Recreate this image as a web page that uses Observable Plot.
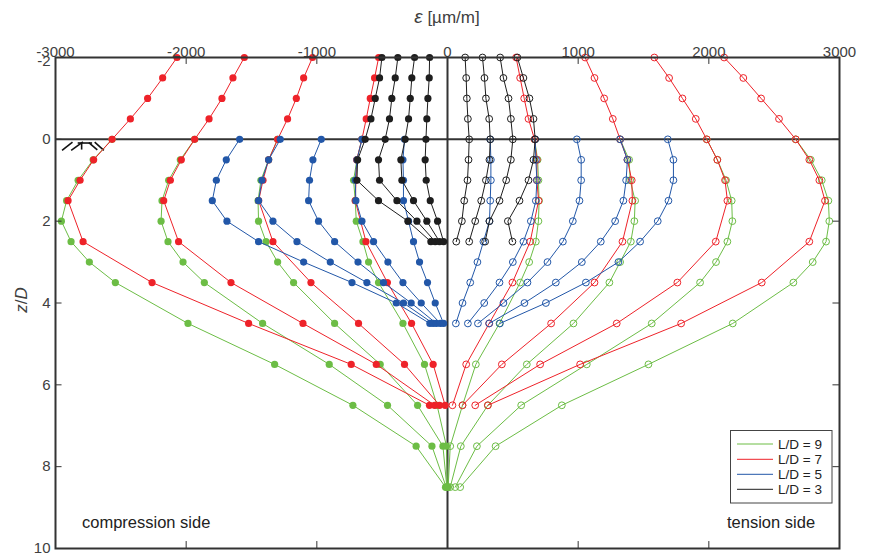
<!DOCTYPE html>
<html><head><meta charset="utf-8">
<script src="https://cdn.jsdelivr.net/npm/d3@7"></script>
<script src="https://cdn.jsdelivr.net/npm/@observablehq/plot@0.6"></script>
<style>
body{margin:0;background:#fff;}
#chart{position:relative;width:871px;height:556px;}
</style></head><body><div id="chart"></div>
<script>
// ---------- data ----------
const xTicks = [-3000, -2000, -1000, 0, 1000, 2000, 3000];
const yTicks = [-2, 0, 2, 4, 6, 8, 10];
const groups = ["L/D = 9", "L/D = 7", "L/D = 5", "L/D = 3"];
const groupColors = ["#6cbd45", "#ee2229", "#2257a8", "#1e1e1e"];

// depth levels z/D of the measuring points
const zLD9 = [0, 0.5, 1, 1.5, 2, 2.5, 3, 3.5, 4.5, 5.5, 6.5, 7.5, 8.5];
const zLD7 = [-2, -1.5, -1, -0.5, 0, 0.5, 1, 1.5, 2.5, 3.5, 4.5, 5.5, 6.5];
const zLD5 = [0, 0.5, 1, 1.5, 2, 2.5, 3, 3.5, 4, 4.5];
const zLD3 = [-2, -1.5, -1, -0.5, 0, 0.5, 1, 1.5, 2, 2.5];

// strains (µm/m), compression side
const ld9Compression = [
  [-2567, -2712, -2827, -2915, -2955, -2881, -2741, -2542, -1986, -1323, -724, -240, -15],
  [-1935, -2045, -2134, -2185, -2192, -2139, -2024, -1861, -1415, -905, -459, -119, -10],
  [-1300, -1369, -1428, -1450, -1446, -1389, -1300, -1178, -864, -515, -229, -35, -5],
  [-655, -693, -719, -706, -698, -647, -604, -528, -341, -176, -80, -8, 0]
];
const ld7Compression = [
  [-2070, -2180, -2295, -2427, -2567, -2708, -2812, -2904, -2789, -2261, -1522, -737, -138],
  [-1555, -1642, -1726, -1825, -1935, -2037, -2121, -2172, -2058, -1657, -1106, -545, -99],
  [-1033, -1101, -1157, -1224, -1300, -1369, -1412, -1445, -1336, -1045, -681, -329, -61],
  [-527, -558, -591, -622, -655, -695, -700, -706, -624, -460, -275, -110, -18]
];
const ld5Compression = [
  [-1591, -1693, -1769, -1800, -1688, -1446, -1101, -731, -392, -135],
  [-1280, -1369, -1420, -1446, -1336, -1152, -897, -617, -337, -110],
  [-966, -1030, -1056, -1063, -987, -864, -685, -490, -278, -85],
  [-655, -693, -706, -701, -655, -566, -456, -341, -201, -55],
  [-329, -341, -337, -337, -298, -260, -214, -153, -94, -30]
];
const ld3Compression = [
  [-502, -520, -553, -586, -630, -688, -693, -528, -303, -127],
  [-380, -400, -426, -444, -477, -528, -520, -387, -234, -94],
  [-252, -273, -285, -298, -324, -357, -349, -260, -158, -61],
  [-137, -140, -150, -158, -165, -171, -163, -132, -76, -30]
];

// strains (µm/m), tension side
const ld9Tension = [
  [666, 690, 696, 701, 696, 676, 625, 556, 398, 217, 115, 21, 5],
  [1321, 1390, 1398, 1436, 1430, 1403, 1321, 1239, 964, 607, 309, 102, 21],
  [1984, 2065, 2132, 2175, 2180, 2142, 2055, 1933, 1563, 1066, 564, 225, 59],
  [2665, 2780, 2864, 2915, 2922, 2897, 2795, 2647, 2183, 1538, 875, 368, 97]
];
const ld7Tension = [
  [2117, 2264, 2400, 2537, 2665, 2769, 2846, 2889, 2769, 2405, 1788, 1015, 309],
  [1583, 1696, 1798, 1900, 1984, 2065, 2124, 2142, 2053, 1759, 1295, 709, 212],
  [1053, 1125, 1199, 1265, 1321, 1377, 1410, 1415, 1339, 1125, 793, 416, 115],
  [525, 556, 587, 620, 666, 684, 684, 697, 633, 497, 319, 143, 38]
];
const ld5Tension = [
  [327, 332, 332, 327, 321, 275, 229, 174, 115, 64],
  [671, 676, 684, 676, 638, 581, 500, 398, 281, 156],
  [990, 1023, 1023, 1010, 959, 883, 765, 612, 428, 233],
  [1321, 1377, 1367, 1346, 1283, 1173, 1028, 829, 589, 319],
  [1686, 1729, 1729, 1691, 1609, 1474, 1308, 1059, 753, 401]
];
const ld3Tension = [
  [135, 143, 148, 156, 166, 161, 153, 128, 110, 67],
  [268, 283, 294, 319, 327, 321, 294, 258, 212, 166],
  [403, 428, 467, 485, 500, 485, 449, 398, 321, 288],
  [535, 581, 627, 658, 671, 658, 620, 551, 462, 497]
];

// ground surface hatch symbol (strain, z/D)
const groundHatch = [
  [-2950, 0.27, -2870, 0.07],
  [-2880, 0.27, -2790, 0.06],
  [-2830, 0.09, -2720, 0.09],
  [-2800, 0.09, -2800, 0.25],
  [-2745, 0.08, -2680, 0.26],
  [-2700, 0.07, -2630, 0.27]
];

// ---------- build table ----------
const zByGroup = [zLD9, zLD7, zLD5, zLD3];
const compByGroup = [ld9Compression, ld7Compression, ld5Compression, ld3Compression];
const tensByGroup = [ld9Tension, ld7Tension, ld5Tension, ld3Tension];
const rows = [];
groups.forEach((g, gi) => {
  const zs = zByGroup[gi];
  [["c", compByGroup[gi]], ["t", tensByGroup[gi]]].forEach(([side, series]) => {
    series.forEach((vals, si) => {
      vals.forEach((v, i) => rows.push({group: g, side, key: g + side + si, z: zs[i], eps: v}));
    });
  });
});

const marks = [
  Plot.ruleY([0], {stroke: "#333", strokeWidth: 2}),
  Plot.ruleX([0], {stroke: "#333", strokeWidth: 2}),
  Plot.link(groundHatch, {x1: d => d[0], y1: d => d[1], x2: d => d[2], y2: d => d[3], stroke: "#111", strokeWidth: 1.6})
];
groups.forEach((g, gi) => {
  const col = groupColors[gi];
  const gr = rows.filter(d => d.group === g);
  marks.push(Plot.line(gr, {x: "eps", y: "z", z: "key", stroke: col, strokeWidth: 1}));
  marks.push(Plot.dot(gr.filter(d => d.side === "c"), {x: "eps", y: "z", r: 3.6, fill: col, stroke: "none"}));
  marks.push(Plot.dot(gr.filter(d => d.side === "t"), {x: "eps", y: "z", r: 3.4, fill: "none", stroke: col, strokeWidth: 1}));
});
// inward ticks
marks.push(
  Plot.ruleX(xTicks, {x: d => d, y1: -2, y2: -1.83, stroke: "#333", strokeWidth: 1}),
  Plot.ruleX(xTicks, {x: d => d, y1: 10, y2: 9.83, stroke: "#333", strokeWidth: 1}),
  Plot.ruleY(yTicks, {y: d => d, x1: -3000, x2: -2950, stroke: "#333", strokeWidth: 1}),
  Plot.ruleY(yTicks, {y: d => d, x1: 3000, x2: 2950, stroke: "#333", strokeWidth: 1}),
  Plot.axisX(xTicks, {anchor: "top", tickSize: 0, tickPadding: 1, label: null, tickFormat: d => String(d), fontSize: 15}),
  Plot.axisY(yTicks.slice(0, 1), {anchor: "left", tickSize: 0, tickPadding: 5, label: null, tickFormat: d => String(d), fontSize: 15, dy: 4}),
  Plot.axisY(yTicks.slice(1), {anchor: "left", tickSize: 0, tickPadding: 5, label: null, tickFormat: d => String(d), fontSize: 15}),
  Plot.frame({stroke: "#333", strokeWidth: 2})
);

const chart = Plot.plot({
  width: 871,
  height: 556,
  marginLeft: 55,
  marginRight: 32,
  marginTop: 57,
  marginBottom: 8,
  style: {fontFamily: "'Liberation Sans', Arial, sans-serif", fontSize: "15px", color: "#404040", background: "#fff", overflow: "visible"},
  x: {domain: [-3000, 3000]},
  y: {domain: [-2, 10], reverse: true},
  marks
});
document.getElementById("chart").appendChild(chart);

// ---------- titles, annotations & legend ----------
const svg = d3.select(chart);
const font = "'Liberation Sans', Arial, sans-serif";
const xt = svg.append("text").attr("x", 447).attr("y", 23).attr("text-anchor", "middle")
  .attr("font-family", font).attr("font-size", 17).attr("fill", "#404040");
xt.append("tspan").attr("font-style", "italic").attr("font-size", 19).text("ε");
xt.append("tspan").text(" [µm/m]");
const yt = svg.append("text").attr("transform", "translate(27,300) rotate(-90)").attr("text-anchor", "middle")
  .attr("font-family", font).attr("font-size", 17).attr("fill", "#404040");
yt.append("tspan").attr("font-style", "italic").text("z");
yt.append("tspan").text("/");
yt.append("tspan").attr("font-style", "italic").text("D");

svg.append("text").attr("x", 82).attr("y", 528).attr("text-anchor", "start").attr("font-family", font)
  .attr("font-size", 16.5).attr("fill", "#222").text("compression side");
svg.append("text").attr("x", 727).attr("y", 528).attr("text-anchor", "start").attr("font-family", font)
  .attr("font-size", 16.5).attr("fill", "#222").text("tension side");

const lg = svg.append("g");
lg.append("rect").attr("x", 730.5).attr("y", 430.5).attr("width", 101.5).attr("height", 72.5)
  .attr("fill", "#fff").attr("stroke", "#444").attr("stroke-width", 1);
const legendY = [444, 459.3, 474.3, 489.3];
groups.forEach((g, i) => {
  lg.append("line").attr("x1", 737).attr("x2", 773).attr("y1", legendY[i]).attr("y2", legendY[i])
    .attr("stroke", groupColors[i]).attr("stroke-width", 1);
  lg.append("text").attr("x", 778).attr("y", legendY[i] + 4.8).attr("text-anchor", "start").attr("font-family", font)
    .attr("font-size", 13.5).attr("fill", "#222").text(g);
});
</script></body></html>
